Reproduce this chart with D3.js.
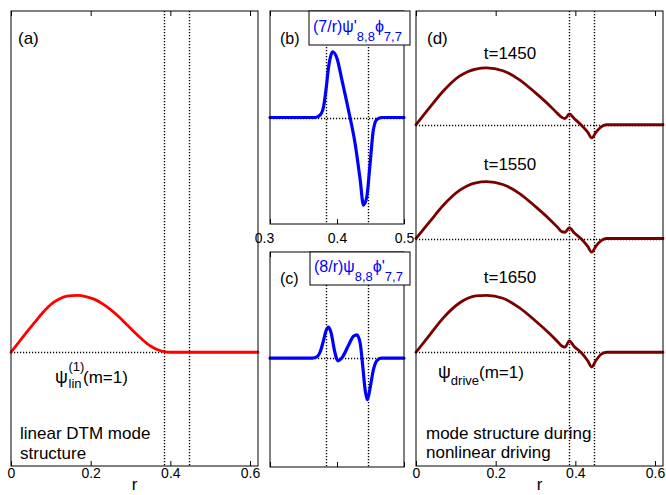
<!DOCTYPE html>
<html><head><meta charset="utf-8">
<script src="https://cdn.jsdelivr.net/npm/d3@7"></script>
<style>
body{margin:0;background:#fff}
svg{display:block}
text{font-family:"Liberation Sans",Arial,Helvetica,sans-serif}
</style>
</head><body>
<svg id="chart" width="666" height="495"></svg>
<script>
// ---------------- data ----------------
const surfaces = [0.383, 0.446];            // dotted rational-surface radii
const ticksFull = [0, 0.2, 0.4, 0.6];
const ticksZoom = [0.3, 0.4, 0.5];

// (a) linear DTM mode, m=1
const rLin   = [0, 0.02, 0.04, 0.06, 0.08, 0.10, 0.12, 0.14, 0.167, 0.19, 0.21, 0.23, 0.25, 0.27, 0.29, 0.31, 0.33, 0.35, 0.37, 0.385, 0.40, 0.62];
const psiLin = [0, 0.18, 0.36, 0.53, 0.70, 0.84, 0.93, 0.985, 1.0, 0.975, 0.93, 0.85, 0.75, 0.63, 0.49, 0.35, 0.22, 0.11, 0.04, 0.01, 0, 0];

// (b) (7/r) psi'_{8,8} phi_{7,7}
const rB   = [0.3, 0.368, 0.375, 0.380, 0.3835, 0.3875, 0.3934, 0.400, 0.4073, 0.417, 0.427, 0.4346, 0.4395, 0.4445, 0.4494, 0.4543, 0.4594, 0.467, 0.5];
const valB = [0, 0, 0.04, 0.17, 0.42, 0.78, 1.01, 0.91, 0.58, 0.12, -0.40, -0.96, -1.35, -1.22, -0.71, -0.19, -0.03, 0, 0];

// (c) (8/r) psi_{8,8} phi'_{7,7}
const rC   = [0.3, 0.363, 0.370, 0.375, 0.380, 0.3835, 0.3875, 0.3915, 0.396, 0.4014, 0.4083, 0.4172, 0.4246, 0.4297, 0.4346, 0.4385, 0.442, 0.4454, 0.4494, 0.4543, 0.4594, 0.466, 0.5];
const valC = [0, 0, 0.02, 0.10, 0.28, 0.42, 0.48, 0.38, 0.13, -0.04, 0.02, 0.20, 0.34, 0.36, 0.23, -0.13, -0.49, -0.64, -0.46, -0.18, -0.04, 0, 0];

// (d) psi_drive (m=1) at three times
const rD       = [0, 0.035, 0.068, 0.11, 0.15, 0.177, 0.218, 0.26, 0.30, 0.335, 0.355, 0.366, 0.374, 0.385, 0.397, 0.414, 0.431, 0.441, 0.452, 0.464, 0.478, 0.62];
const psi1450  = [0, 0.31, 0.59, 0.86, 0.98, 1.0, 0.95, 0.79, 0.56, 0.34, 0.20, 0.13, 0.11, 0.19, 0.11, 0.0, -0.13, -0.23, -0.13, -0.04, 0, 0];
const psi1550  = [0, 0.30, 0.58, 0.85, 0.98, 1.0, 0.95, 0.79, 0.56, 0.34, 0.20, 0.12, 0.11, 0.19, 0.10, 0.0, -0.14, -0.24, -0.13, -0.04, 0, 0];
const psi1650  = [0, 0.31, 0.60, 0.87, 0.99, 1.0, 0.95, 0.78, 0.55, 0.33, 0.19, 0.11, 0.09, 0.20, 0.10, 0.0, -0.15, -0.26, -0.14, -0.04, 0, 0];
const timeLabels = ["t=1450", "t=1550", "t=1650"];
const timeOffsets = [4, 2, 0];

// ---------------- drawing ----------------
const svg = d3.select("#chart");
const FONT = '"Liberation Sans",Arial,Helvetica,sans-serif';

function makePanel(x0, x1, y0, y1, xdom, ydom) {
  return {
    x0, x1, y0, y1,
    x: d3.scaleLinear().domain(xdom).range([x0, x1]),
    y: d3.scaleLinear().domain(ydom).range([y1, y0])
  };
}
const pa = makePanel(11, 258, 11, 466, [0, 0.62], [-2, 6]);
const pb = makePanel(270, 404, 11, 224, [0.3, 0.5], [-1.64, 1.64]);
const pc = makePanel(270, 404, 252, 467, [0.3, 0.5], [-1.68, 1.64]);
const pd = makePanel(416, 663, 11, 466, [0, 0.62], [-2, 6]);

function frame(p, ticks, labels, pad, firstDx) {
  const g = svg.append("g");
  const b = g.append("g").attr("transform", `translate(0,${p.y1})`)
    .call(d3.axisBottom(p.x).tickValues(ticks).tickSize(-5).tickPadding(pad)
      .tickFormat(labels ? d3.format("~g") : () => ""));
  b.select(".domain").remove();
  b.attr("font-family", FONT).attr("font-size", 14);
  b.selectAll("line").attr("stroke", "#000");
  b.selectAll("text").attr("fill", "#000");
  if (firstDx) b.selectAll("text").filter((d, i) => i === 0).attr("dx", firstDx);
  const t = g.append("g").attr("transform", `translate(0,${p.y0})`)
    .call(d3.axisTop(p.x).tickValues(ticks).tickSize(-5).tickFormat(() => ""));
  t.select(".domain").remove();
  t.selectAll("line").attr("stroke", "#000");
  g.append("rect").attr("x", p.x0).attr("y", p.y0)
    .attr("width", p.x1 - p.x0).attr("height", p.y1 - p.y0)
    .attr("fill", "none").attr("stroke", "#000").attr("stroke-width", 1);
}

const px = v => Math.round(v) + 0.5;
function dotted(g, x1, y1, x2, y2) {
  const vertical = Math.abs(x1 - x2) < 0.01;
  g.append("line")
    .attr("x1", vertical ? px(x1) : x1).attr("x2", vertical ? px(x2) : x2)
    .attr("y1", vertical ? y1 : px(y1)).attr("y2", vertical ? y2 : px(y2))
    .attr("stroke", "#000").attr("stroke-width", 1.4).attr("stroke-dasharray", "1.2,1.8");
}

function curve(p, rs, vs, offset, color, width) {
  const line = d3.line().x(d => p.x(d[0])).y(d => p.y(d[1] + offset)).curve(d3.curveMonotoneX);
  svg.append("path").datum(rs.map((r, i) => [r, vs[i]]))
    .attr("d", line).attr("fill", "none").attr("stroke", color)
    .attr("stroke-width", width).attr("stroke-linejoin", "round").attr("stroke-linecap", "round");
}

function label(x, y, str, size, anchor) {
  return svg.append("text").attr("x", x).attr("y", y).attr("font-size", size)
    .attr("text-anchor", anchor || "start").attr("fill", "#000").text(str);
}

// ----- panel (a)
{
  label(20, 439, "linear DTM mode", 17);
  label(20, 459, "structure", 17);
  const g = svg.append("g");
  surfaces.forEach(s => dotted(g, pa.x(s), pa.y0, pa.x(s), pa.y1));
  dotted(g, pa.x0, pa.y(0), pa.x1, pa.y(0));
  curve(pa, rLin, psiLin, 0, "#ff0000", 2.8);
  frame(pa, ticksFull, true, 2);
  label(18, 44, "(a)", 17);
  const t = svg.append("text").attr("x", 55).attr("y", 383).attr("font-size", 18).attr("fill", "#000");
  t.append("tspan").text("ψ");
  const sx = 55 + 13.5;
  t.append("tspan").attr("x", sx).attr("y", 371).attr("font-size", 13).text("(1)");
  t.append("tspan").attr("x", sx).attr("y", 388).attr("font-size", 13).text("lin");
  t.append("tspan").attr("x", 83).attr("y", 383).attr("font-size", 17).text("(m=1)");
  label((pa.x0 + pa.x1) / 2, 490, "r", 17, "middle");
}

// ----- panel (b)
{
  const g = svg.append("g");
  surfaces.forEach(s => dotted(g, pb.x(s), pb.y0, pb.x(s), pb.y1));
  dotted(g, pb.x0, pb.y(0), pb.x1, pb.y(0));
  curve(pb, rB, valB, 0, "#0000ff", 3.2);
  frame(pb, ticksZoom, true, 9, -6);
  label(280, 44, "(b)", 16);
  svg.append("rect").attr("x", 309).attr("y", 11).attr("width", 101).attr("height", 34)
    .attr("fill", "#fff").attr("stroke", "#000").attr("stroke-width", 1);
  const t = svg.append("text").attr("x", 313).attr("y", 32).attr("font-size", 16).attr("fill", "#0000ff");
  t.append("tspan").text("(7/r)ψ'");
  t.append("tspan").attr("y", 41).attr("font-size", 13).text("8,8");
  t.append("tspan").attr("y", 32).text("ϕ");
  t.append("tspan").attr("y", 41).attr("font-size", 13).text("7,7");
}

// ----- panel (c)
{
  const g = svg.append("g");
  surfaces.forEach(s => dotted(g, pc.x(s), pc.y0, pc.x(s), pc.y1));
  dotted(g, pc.x0, pc.y(0), pc.x1, pc.y(0));
  curve(pc, rC, valC, 0, "#0000ff", 3.2);
  frame(pc, ticksZoom, false, 9);
  label(280, 284, "(c)", 16);
  svg.append("rect").attr("x", 310).attr("y", 252).attr("width", 100).attr("height", 33)
    .attr("fill", "#fff").attr("stroke", "#000").attr("stroke-width", 1);
  const t = svg.append("text").attr("x", 314).attr("y", 272).attr("font-size", 16).attr("fill", "#0000ff");
  t.append("tspan").text("(8/r)ψ");
  t.append("tspan").attr("y", 281).attr("font-size", 13).text("8,8");
  t.append("tspan").attr("y", 272).text("ϕ'");
  t.append("tspan").attr("y", 281).attr("font-size", 13).text("7,7");
}

// ----- panel (d)
{
  label(426, 439, "mode structure during", 17);
  label(426, 458, "nonlinear driving", 17);
  const g = svg.append("g");
  surfaces.forEach(s => dotted(g, pd.x(s), pd.y0, pd.x(s), pd.y1));
  timeOffsets.forEach(o => dotted(g, pd.x0, pd.y(o), pd.x1, pd.y(o)));
  [psi1450, psi1550, psi1650].forEach((vs, i) => curve(pd, rD, vs, timeOffsets[i], "#7a0000", 2.8));
  frame(pd, ticksFull, true, 2);
  label(427, 44, "(d)", 17);
  const tb = [59, 170, 283];
  timeLabels.forEach((s, i) => label(510, tb[i], s, 17, "middle"));
  const t = svg.append("text").attr("x", 438).attr("y", 378).attr("font-size", 18).attr("fill", "#000");
  t.append("tspan").text("ψ");
  t.append("tspan").attr("y", 385).attr("font-size", 13).text("drive");
  t.append("tspan").attr("y", 378).attr("font-size", 17).text("(m=1)");
  label((pd.x0 + pd.x1) / 2, 490, "r", 17, "middle");
}
</script>
</body></html>
